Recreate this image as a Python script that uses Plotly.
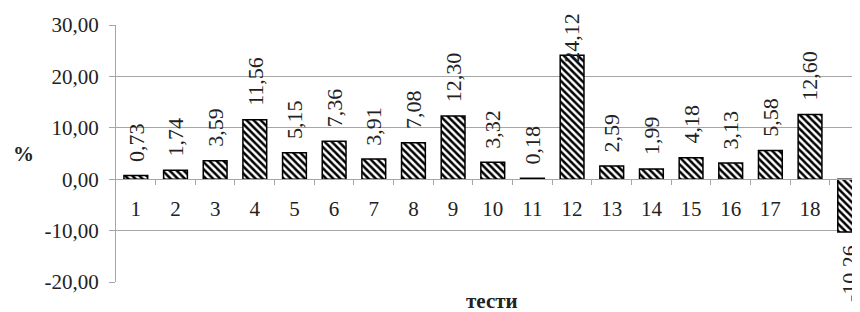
import plotly.graph_objects as go

categories = [str(i) for i in range(1, 20)]
values = [0.73, 1.74, 3.59, 11.56, 5.15, 7.36, 3.91, 7.08, 12.30, 3.32,
          0.18, 24.12, 2.59, 1.99, 4.18, 3.13, 5.58, 12.60, -10.26]
y_ticks = [-20, -10, 0, 10, 20, 30]
y_tick_labels = ["-20,00", "-10,00", "0,00", "10,00", "20,00", "30,00"]
x_title = "тести"
y_title = "%"

FONT = "Liberation Serif"
GRID = "#a6a6a6"
TXT = "#222222"
YMIN, YMAX = -20, 30
PX_PER_UNIT = 256.7 / (YMAX - YMIN)
LAB_SIZE = 22
GAP = 14


def fmt(v):
    return f"{v:.2f}".replace(".", ",")


def text_len(s, size):
    w = {",": 0.25, "-": 0.333}
    return sum(w.get(ch, 0.5) for ch in s) * size


fig = go.Figure()
fig.add_trace(go.Bar(
    x=list(range(len(categories))), y=values,
    width=0.6,
    marker=dict(
        color="white",
        line=dict(color="black", width=1.5),
        pattern=dict(shape="\\", fgcolor="black", bgcolor="white",
                     size=5, solidity=0.5, fillmode="replace"),
    ),
    hoverinfo="skip",
))

lab_font = dict(family=FONT, size=LAB_SIZE, color=TXT)
annotations = []
for i, v in enumerate(values):
    txt = fmt(v)
    L = text_len(txt, LAB_SIZE)
    if v >= 0:
        if v * PX_PER_UNIT + GAP + L > YMAX * PX_PER_UNIT + 12:
            annotations.append(dict(x=i, y=YMAX, xref="x", yref="y", text=txt,
                                    textangle=-90, showarrow=False,
                                    yanchor="middle", yshift=12 - L / 2, font=lab_font))
        else:
            annotations.append(dict(x=i, y=v, xref="x", yref="y", text=txt,
                                    textangle=-90, showarrow=False,
                                    yanchor="middle", yshift=GAP + L / 2, font=lab_font))
    else:
        annotations.append(dict(x=i, y=v, xref="x", yref="y", text=txt,
                                textangle=-90, showarrow=False,
                                yanchor="middle", yshift=-(GAP - 1 + L / 2), font=lab_font))

annotations.append(dict(x=-0.125, y=0.5, xref="paper", yref="paper", text=f"<b>{y_title}</b>",
                        showarrow=False, xanchor="center", yanchor="middle",
                        font=dict(family=FONT, size=21, color=TXT)))
annotations.append(dict(x=0.505, y=-0.072, xref="paper", yref="paper", text=f"<b>{x_title}</b>",
                        showarrow=False, xanchor="center", yanchor="middle",
                        font=dict(family=FONT, size=21, color=TXT)))

# page body adds an 8px offset; figure sized/margined to compensate
fig.update_layout(
    width=852, height=304,
    margin=dict(l=108, r=0, t=17, b=30, autoexpand=False),
    paper_bgcolor="white", plot_bgcolor="white",
    showlegend=False,
    font=dict(family=FONT, size=21, color=TXT),
    annotations=annotations,
    xaxis=dict(
        range=[-0.5, 18.26],
        tickmode="array",
        tickvals=list(range(len(categories))), ticktext=categories,
        anchor="free", position=0.4,
        showline=True, linecolor=GRID, linewidth=1,
        ticks="", showgrid=False, zeroline=False,
        ticklabelstandoff=11,
        automargin=False,
        tickfont=dict(family=FONT, size=21, color=TXT),
    ),
    xaxis2=dict(
        range=[-0.5, 18.26], overlaying="x",
        anchor="free", position=0.4,
        tickmode="array",
        tickvals=[i + 0.5 for i in range(len(categories) - 1)],
        ticktext=["" for _ in range(len(categories) - 1)],
        ticks="outside", ticklen=5, tickcolor=GRID, tickwidth=1,
        showline=False, showgrid=False, zeroline=False, automargin=False,
    ),
    yaxis=dict(
        range=[YMIN, YMAX],
        tickvals=y_ticks, ticktext=y_tick_labels,
        showgrid=True, gridcolor=GRID, gridwidth=1,
        zeroline=True, zerolinecolor=GRID, zerolinewidth=1,
        showline=True, linecolor=GRID, linewidth=1,
        ticks="outside", ticklen=6, tickcolor=GRID, tickwidth=1,
        ticklabelstandoff=6,
        automargin=False,
        tickfont=dict(family=FONT, size=21, color=TXT),
    ),
)
fig.add_trace(go.Scatter(x=[0], y=[0], xaxis="x2", mode="markers",
                         marker=dict(opacity=0), hoverinfo="skip", showlegend=False))

fig.write_html("out.html")
